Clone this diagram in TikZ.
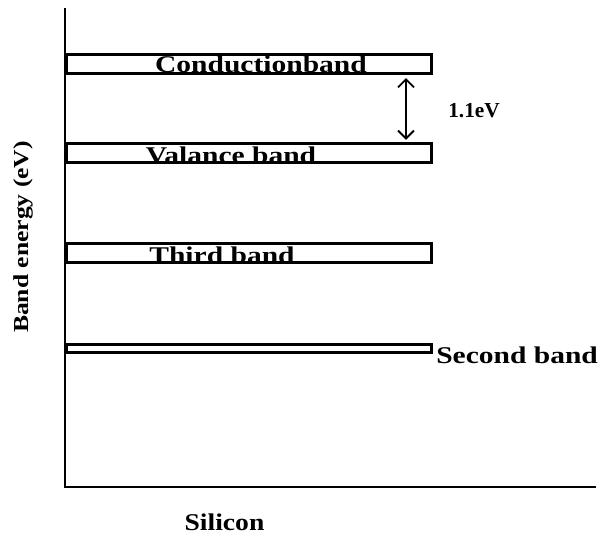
\documentclass[tikz,border=0pt]{standalone}
\usepackage{fontspec}
\setmainfont{Liberation Serif}
\usetikzlibrary{arrows.meta, positioning, calc}
\tikzset{
  >={Straight Barb[length=6pt,width=12pt]},
  % bande di energia
  band/.style={draw, line width=2.2pt, rectangle, inner sep=0pt, outer sep=0pt,
    minimum width=274pt, minimum height=14.5pt, anchor=west},
  band thin/.style={band, minimum height=6pt},
  band label/.style={anchor=base, inner sep=0pt, font=\bfseries\fontsize{18}{20}\selectfont},
  % assi
  axis/.style={line width=2.2pt},
  gap/.style={<->, line width=1.4pt, shorten <=3.3pt, shorten >=2.6pt}
}
\newcommand{\wide}[2][1.23]{\scalebox{#1}[1]{#2}}

\begin{document}
\begin{tikzpicture}[x=0.75pt, y=-0.75pt]
    \useasboundingbox (0,0) rectangle (606,535);
    % axes
    \coordinate (origin) at (65,487);
    \draw[axis] (65,8) -- (origin) -- (596,487);
    \node[anchor=base, inner sep=0pt, font=\bfseries\fontsize{18}{20}\selectfont]
      (material) at (224.5,530) {\wide[1.15]{Silicon}};
    \node[rotate=90, inner sep=0pt, font=\bfseries\fontsize{16}{18}\selectfont]
      (energy) at (23,237) {\wide[1.2]{Band energy (eV)}};
    % bands
    \node[band] (cond) at (66.5,64) {};
    \node[band] (val) at (66.5,153) {};
    \node[band] (third) at (66.5,253) {};
    \node[band thin] (second) at (66.5,348.5) {};
    \node[band label] (cond label) at (261,73) {\wide{Conductionband}};
    \node[band label] (val label) at (231,163) {\wide{Valance band}};
    \node[band label] (third label) at (222,263) {\wide{Third band}};
    \node[band label, anchor=base west] (second label) at (436,363) {\wide{Second band}};
    % band gap
    \coordinate (gap top) at ($(cond.south west)+(339.5,0)$);
    \coordinate (gap bottom) at ($(val.north west)+(339.5,0)$);
    \draw[gap] (gap top) -- (gap bottom);
    \node[anchor=base west, inner sep=0pt, font=\bfseries\fontsize{16}{18}\selectfont]
      (gap label) at (448,117) {1.1eV};
\end{tikzpicture}
\end{document}
